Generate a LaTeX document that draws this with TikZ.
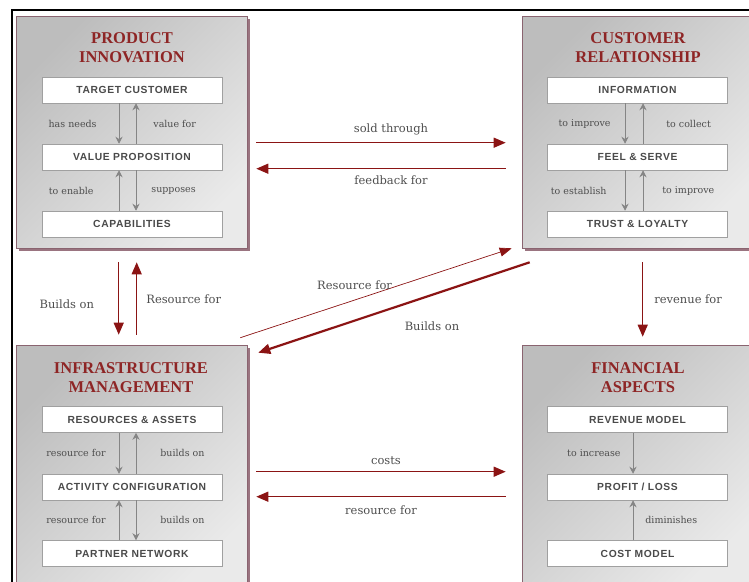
\documentclass[tikz,border=0pt]{standalone}
\usepackage{fontspec}
\setmainfont{Liberation Serif}
\newfontfamily\labelfont{DejaVu Serif}
\newfontfamily\boxfont[LetterSpace=6]{Liberation Sans}
\usetikzlibrary{arrows.meta,calc,positioning,shadows}

\definecolor{wine}{HTML}{8B1414}
\definecolor{titlered}{HTML}{8E2525}
\definecolor{panelrim}{HTML}{8A6470}
\definecolor{panelshadow}{HTML}{9A7480}
\definecolor{paneldark}{HTML}{BDBDBD}
\definecolor{panellight}{HTML}{EAEAEA}
\definecolor{itemrim}{HTML}{A0A0A0}
\definecolor{innertext}{HTML}{4A4A4A}
\definecolor{labeltext}{HTML}{4E4E4E}
\definecolor{innerarrow}{HTML}{858585}

\begin{document}
\begin{tikzpicture}[x=1pt,y=-1pt,
  panel/.style={draw=panelrim, line width=0.6pt,
    top color=paneldark, bottom color=panellight, shading angle=45,
    minimum width=231pt, inner sep=0pt,
    drop shadow={shadow xshift=2.5pt, shadow yshift=-2.5pt, fill=panelshadow, opacity=1}},
  paneltitle/.style={font=\fontsize{16.5}{19}\selectfont\bfseries, text=titlered, align=center, inner sep=0pt},
  item/.style={draw=itemrim, fill=white, line width=0.5pt, minimum width=180pt, minimum height=26pt,
    inner sep=0pt, font=\boxfont\bfseries\fontsize{10.3}{12}\selectfont, text=innertext},
  innerlink/.style={innerarrow, line width=0.8pt, -{Stealth[length=7pt,width=7pt]}},
  ilabel/.style={font=\labelfont\fontsize{9.5}{11}\selectfont, text=labeltext, inner sep=0pt},
  clabel/.style={font=\labelfont\fontsize{11.5}{13}\selectfont, text=labeltext, inner sep=0pt},
  conn/.style={wine, line width=1.3pt, -{Triangle[length=12pt,width=10pt]}},
  thinconn/.style={wine, line width=0.7pt, -{Triangle[length=12pt,width=9pt]}},
  thickconn/.style={wine, line width=2.2pt, -{Triangle[length=12pt,width=10pt]}},
]
\useasboundingbox (0,0) rectangle (749,581);

% ---- panels ----
\node[panel, minimum height=232pt] (pi) at (131.5,132) {};
\node[panel, minimum height=232pt] (cr) at (637.5,132) {};
\node[panel, minimum height=245pt] (im) at (131.5,467.5) {};
\node[panel, minimum height=245pt] (fa) at (637.5,467.5) {};

% ---- titles ----
\node[paneltitle] (piT) at (132,47.5) {PRODUCT\\INNOVATION};
\node[paneltitle] (crT) at (638,47.5) {CUSTOMER\\RELATIONSHIP};
\node[paneltitle] (imT) at (131,377.5) {INFRASTRUCTURE\\MANAGEMENT};
\node[paneltitle] (faT) at (638,377.5) {FINANCIAL\\ASPECTS};

% ---- product innovation ----
\node[item] (pi1) at (132,90) {TARGET CUSTOMER};
\node[item] (pi2) at (132,157) {VALUE PROPOSITION};
\node[item] (pi3) at (132,224) {CAPABILITIES};
\draw[innerlink] ([xshift=-13pt]pi1.south) -- node[midway, left=22pt, ilabel]{has needs} ([xshift=-13pt]pi2.north);
\draw[innerlink] ([xshift=4pt]pi2.north) -- node[midway, right=17pt, ilabel]{value for} ([xshift=4pt]pi1.south);
\draw[innerlink] ([xshift=-13pt]pi3.north) -- node[midway, left=25pt, ilabel]{to enable} ([xshift=-13pt]pi2.south);
\draw[innerlink] ([xshift=4pt]pi2.south) -- node[midway, right=15pt, ilabel]{supposes} ([xshift=4pt]pi3.north);

% ---- customer relationship ----
\node[item] (cr1) at (637.5,90) {INFORMATION};
\node[item] (cr2) at (637.5,157) {FEEL \& SERVE};
\node[item] (cr3) at (637.5,224) {TRUST \& LOYALTY};
\draw[innerlink] ([xshift=-12.5pt]cr1.south) -- node[midway, left=14pt, ilabel]{to improve} ([xshift=-12.5pt]cr2.north);
\draw[innerlink] ([xshift=5.5pt]cr2.north) -- node[midway, right=23pt, ilabel]{to collect} ([xshift=5.5pt]cr1.south);
\draw[innerlink] ([xshift=-12.5pt]cr2.south) -- node[midway, left=18pt, ilabel]{to establish} ([xshift=-12.5pt]cr3.north);
\draw[innerlink] ([xshift=5.5pt]cr3.north) -- node[midway, right=19pt, ilabel]{to improve} ([xshift=5.5pt]cr2.south);

% ---- infrastructure management ----
\node[item] (im1) at (132,419.5) {RESOURCES \& ASSETS};
\node[item] (im2) at (132,487) {ACTIVITY CONFIGURATION};
\node[item] (im3) at (132,553.5) {PARTNER NETWORK};
\draw[innerlink] ([xshift=-13pt]im1.south) -- node[midway, left=13pt, ilabel]{resource for} ([xshift=-13pt]im2.north);
\draw[innerlink] ([xshift=4pt]im2.north) -- node[midway, right=24pt, ilabel]{builds on} ([xshift=4pt]im1.south);
\draw[innerlink] ([xshift=-13pt]im3.north) -- node[midway, left=13pt, ilabel]{resource for} ([xshift=-13pt]im2.south);
\draw[innerlink] ([xshift=4pt]im2.south) -- node[midway, right=24pt, ilabel]{builds on} ([xshift=4pt]im3.north);

% ---- financial aspects ----
\node[item] (fa1) at (637.5,419.5) {REVENUE MODEL};
\node[item] (fa2) at (637.5,487) {PROFIT / LOSS};
\node[item] (fa3) at (637.5,553.5) {COST MODEL};
\draw[innerlink] ([xshift=-4.5pt]fa1.south) -- node[midway, left=12pt, ilabel]{to increase} ([xshift=-4.5pt]fa2.north);
\draw[innerlink] ([xshift=-4.5pt]fa3.north) -- node[midway, right=12pt, ilabel]{diminishes} ([xshift=-4.5pt]fa2.south);

% ---- connectors between panels ----
\draw[conn] ($(pi.north east)+(9,127)$) -- node[pos=0.54, above=7pt, clabel]{sold through} ($(cr.north west)+(-16,127)$);
\draw[conn] ($(cr.north west)+(-16,153)$) -- node[pos=0.46, below=6pt, clabel]{feedback for} ($(pi.north east)+(9,153)$);
\draw[conn] ($(im.north east)+(9,127)$) -- node[pos=0.52, above=6pt, clabel]{costs} ($(fa.north west)+(-16,127)$);
\draw[conn] ($(fa.north west)+(-16,152)$) -- node[pos=0.5, below=8pt, clabel]{resource for} ($(im.north east)+(9,152)$);

\draw[conn] ($(pi.south west)+(103,14)$) -- node[pos=0.575, left=24pt, clabel]{Builds on} ($(im.north west)+(103,-10)$);
\draw[conn] ($(im.north west)+(121,-10)$) -- node[pos=0.49, right=9pt, clabel]{Resource for} ($(pi.south west)+(121,14)$);
\draw[conn] ($(cr.south west)+(121,14)$) -- node[pos=0.49, right=11pt, clabel]{revenue for} ($(fa.north west)+(121,-8)$);

\draw[thinconn] ($(im.north east)+(-7,-7)$) -- node[pos=0.56, anchor=east, yshift=2pt, clabel]{Resource for} ($(cr.south west)+(-10,0)$);
\draw[thickconn] ($(cr.south west)+(8,14)$) -- node[pos=0.36, below=26pt, clabel]{Builds on} ($(im.north east)+(11,8)$);

% ---- outer frame ----
\draw[black, line width=1.1pt] (12,600) -- (12,10) -- (760,10);
\end{tikzpicture}
\end{document}
